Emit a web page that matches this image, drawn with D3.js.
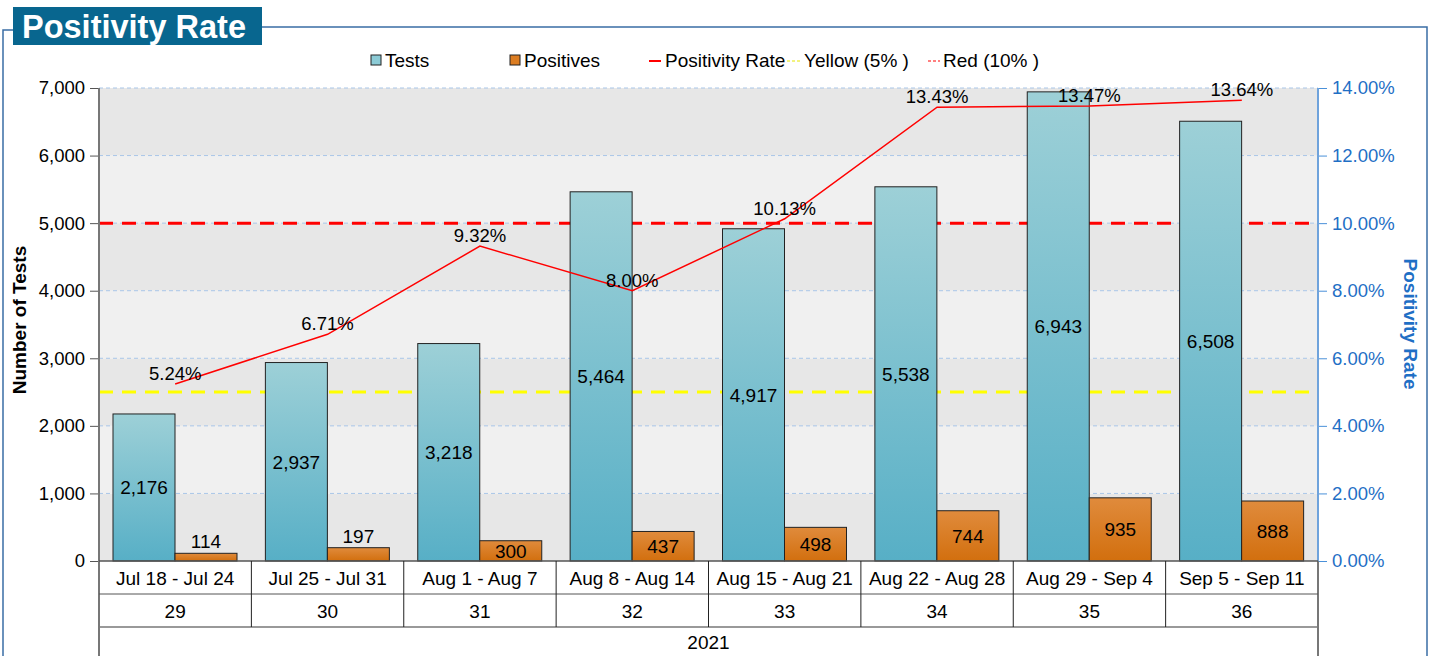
<!DOCTYPE html>
<html><head><meta charset="utf-8">
<script src="https://cdn.jsdelivr.net/npm/d3@7"></script>
<style>body{margin:0;background:#fff;font-family:"Liberation Sans",Arial,sans-serif}</style>
</head><body><svg id="c" width="1433" height="656"></svg>
<script>
const categories = ["Jul 18 - Jul 24","Jul 25 - Jul 31","Aug 1 - Aug 7","Aug 8 - Aug 14","Aug 15 - Aug 21","Aug 22 - Aug 28","Aug 29 - Sep 4","Sep 5 - Sep 11"];
const weeks = ["29","30","31","32","33","34","35","36"];
const yearLabel = "2021";
const tests = [2176,2937,3218,5464,4917,5538,6943,6508];
const positives = [114,197,300,437,498,744,935,888];
const rates = [5.24,6.71,9.32,8.00,10.13,13.43,13.47,13.64];
const yellowThreshold = 5, redThreshold = 10;
const leftTicks = [0,1000,2000,3000,4000,5000,6000,7000];
const rightTicks = [0,2,4,6,8,10,12,14];

const svg = d3.select("#c");
const L=99, R=1318, T=88, B=561;
const x = d3.scaleBand().domain(categories).range([L,R]).padding(0);
const y = d3.scaleLinear().domain([0,7000]).range([B,T]);
const y2 = d3.scaleLinear().domain([0,14]).range([B,T]);
const fmt = d3.format(",");

// frame
svg.append("path").attr("d",`M3,656 V30 H13 M262,27 H1427 V656`).attr("fill","none").attr("stroke","#3a6ea5").attr("stroke-width",1.5);
svg.append("rect").attr("x",13).attr("y",7).attr("width",249).attr("height",38).attr("fill","#08668f");
svg.append("text").attr("x",22).attr("y",38).attr("fill","#fff").attr("font-weight","bold").attr("font-size",32.5).text("Positivity Rate");

const defs = svg.append("defs");
const g1 = defs.append("linearGradient").attr("id","gT").attr("x1",0).attr("y1",0).attr("x2",0).attr("y2",1);
g1.append("stop").attr("offset","0%").attr("stop-color","#9dd0d7");
g1.append("stop").attr("offset","100%").attr("stop-color","#57afc6");
const g2 = defs.append("linearGradient").attr("id","gP").attr("x1",0).attr("y1",0).attr("x2",0).attr("y2",1);
g2.append("stop").attr("offset","0%").attr("stop-color","#e08b3c");
g2.append("stop").attr("offset","100%").attr("stop-color","#d26f0e");

// bands
for(let i=0;i<leftTicks.length-1;i++){
  svg.append("rect").attr("x",L).attr("width",R-L).attr("y",y(leftTicks[i+1])).attr("height",y(leftTicks[i])-y(leftTicks[i+1]))
    .attr("fill", i%2===0 ? "#e7e7e7" : "#f0f0f0");
}
// grid
svg.append("g").selectAll("line").data(leftTicks.slice(1)).join("line")
  .attr("x1",L).attr("x2",R).attr("y1",d=>y(d)).attr("y2",d=>y(d))
  .attr("stroke","#a9c6e8").attr("stroke-dasharray","4,3").attr("stroke-width",1);

// thresholds
svg.append("line").attr("x1",L).attr("x2",R).attr("y1",y2(yellowThreshold)).attr("y2",y2(yellowThreshold))
  .attr("stroke","#ffff00").attr("stroke-width",3).attr("stroke-dasharray","14,9");
svg.append("line").attr("x1",L).attr("x2",R).attr("y1",y2(redThreshold)).attr("y2",y2(redThreshold))
  .attr("stroke","#ff0000").attr("stroke-width",3).attr("stroke-dasharray","14,9");

// bars
const bw = 62, off = 14;
const gb = svg.append("g");
gb.selectAll(".t").data(tests).join("rect")
  .attr("x",(d,i)=>x(categories[i])+off).attr("width",bw)
  .attr("y",d=>y(d)).attr("height",d=>B-y(d))
  .attr("fill","url(#gT)").attr("stroke","#222").attr("stroke-width",1);
gb.selectAll(".p").data(positives).join("rect")
  .attr("x",(d,i)=>x(categories[i])+off+bw).attr("width",bw)
  .attr("y",d=>y(d)).attr("height",d=>B-y(d))
  .attr("fill","url(#gP)").attr("stroke","#222").attr("stroke-width",1);

// line
const cx = i => x(categories[i]) + x.bandwidth()/2;
svg.append("path").datum(rates)
  .attr("d", d3.line().x((d,i)=>cx(i)).y(d=>y2(d)))
  .attr("fill","none").attr("stroke","#ff0000").attr("stroke-width",1.5);

// labels
const lab = svg.append("g").attr("font-size",19).attr("fill","#000").attr("text-anchor","middle");
tests.forEach((d,i)=>{
  lab.append("text").attr("x",x(categories[i])+off+bw/2).attr("y",(y(d)+B)/2+7).text(fmt(d));
});
positives.forEach((d,i)=>{
  const h = B-y(d);
  const yy = h>16 ? (y(d)+B)/2+7 : y(d)-5;
  lab.append("text").attr("x",x(categories[i])+off+bw*1.5).attr("y",yy).text(fmt(d));
});
rates.forEach((d,i)=>{
  lab.append("text").attr("x",cx(i)).attr("y",y2(d)-4).attr("font-size",18.5).text(d.toFixed(2)+"%");
});

// left axis
const la = svg.append("g").attr("transform",`translate(${L},0)`)
  .call(d3.axisLeft(y).tickValues(leftTicks).tickFormat(fmt).tickSize(9).tickPadding(5));
la.select(".domain").remove();
la.selectAll("line").attr("stroke","#555");
la.selectAll("text").attr("font-size",18.5).attr("fill","#000").attr("font-family","Liberation Sans, Arial");
svg.append("line").attr("x1",L).attr("x2",L).attr("y1",T).attr("y2",656).attr("stroke","#777").attr("stroke-width",2);

// right axis
const ra = svg.append("g").attr("transform",`translate(${R},0)`)
  .call(d3.axisRight(y2).tickValues(rightTicks).tickFormat(d=>d.toFixed(2)+"%").tickSize(9).tickPadding(5));
ra.select(".domain").remove();
ra.selectAll("line").attr("stroke","#4a90d9");
ra.selectAll("text").attr("font-size",18.5).attr("fill","#1f6fc5").attr("font-family","Liberation Sans, Arial");
svg.append("line").attr("x1",R).attr("x2",R).attr("y1",B).attr("y2",656).attr("stroke","#777").attr("stroke-width",2);
svg.append("line").attr("x1",R).attr("x2",R).attr("y1",T).attr("y2",B).attr("stroke","#6fa3dc").attr("stroke-width",2);

// table under x axis
const tb = svg.append("g");
tb.append("line").attr("x1",L).attr("x2",R).attr("y1",B).attr("y2",B).attr("stroke","#555").attr("stroke-width",1.5);
tb.append("line").attr("x1",L).attr("x2",R).attr("y1",594).attr("y2",594).attr("stroke","#555");
tb.append("line").attr("x1",L).attr("x2",R).attr("y1",627).attr("y2",627).attr("stroke","#777").attr("stroke-width",1.5);
categories.slice(1).forEach(c=>{
  tb.append("line").attr("x1",x(c)).attr("x2",x(c)).attr("y1",B).attr("y2",627).attr("stroke","#222");
});
const tt = svg.append("g").attr("font-size",19).attr("text-anchor","middle").attr("fill","#000");
categories.forEach((c,i)=>{
  tt.append("text").attr("x",cx(i)).attr("y",585).text(c);
  tt.append("text").attr("x",cx(i)).attr("y",618).text(weeks[i]);
});
tt.append("text").attr("x",(L+R)/2).attr("y",649).text(yearLabel);

// axis titles
svg.append("text").attr("transform","translate(26,320) rotate(-90)").attr("text-anchor","middle")
  .attr("font-weight","bold").attr("font-size",19).text("Number of Tests");
svg.append("text").attr("transform","translate(1404,324) rotate(90)").attr("text-anchor","middle")
  .attr("font-weight","bold").attr("font-size",19).attr("fill","#1f6fc5").text("Positivity Rate");

// legend
const lg = svg.append("g").attr("font-size",19).attr("fill","#000");
lg.append("rect").attr("x",371).attr("y",55).attr("width",10).attr("height",10).attr("fill","#8ccbd6").attr("stroke","#222");
lg.append("text").attr("x",385).attr("y",67).text("Tests");
lg.append("rect").attr("x",510).attr("y",55).attr("width",10).attr("height",10).attr("fill","#dc7d22").attr("stroke","#222");
lg.append("text").attr("x",524).attr("y",67).text("Positives");
lg.append("line").attr("x1",649).attr("x2",661).attr("y1",61).attr("y2",61).attr("stroke","#ff0000").attr("stroke-width",2);
lg.append("text").attr("x",665).attr("y",67).text("Positivity Rate");
lg.append("line").attr("x1",787).attr("x2",800).attr("y1",61).attr("y2",61).attr("stroke","#e6e600").attr("stroke-width",1).attr("stroke-dasharray","3,2");
lg.append("text").attr("x",804).attr("y",67).text("Yellow (5% )");
lg.append("line").attr("x1",928).attr("x2",940).attr("y1",61).attr("y2",61).attr("stroke","#ff0000").attr("stroke-width",1).attr("stroke-dasharray","3,2");
lg.append("text").attr("x",943).attr("y",67).text("Red (10% )");
</script></body></html>
